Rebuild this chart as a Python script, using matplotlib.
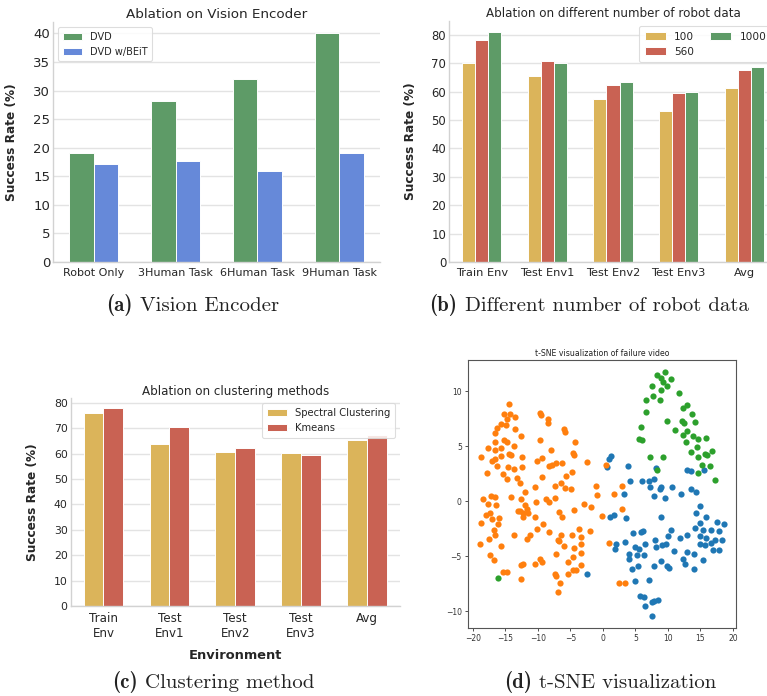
import matplotlib
matplotlib.use("Agg")  # no display in the runner
import matplotlib.pyplot as plt
from matplotlib.offsetbox import AnchoredOffsetbox, HPacker, TextArea
import numpy as np

# (a) vision encoder ablation
enc_tasks = ["Robot Only", "3Human Task", "6Human Task", "9Human Task"]
enc_dvd = [19.0, 28.2, 32.0, 40.0]
enc_beit = [17.2, 17.6, 16.0, 19.1]

# (b) amount of robot data
env_names = ["Train Env", "Test Env1", "Test Env2", "Test Env3", "Avg"]
robot_100 = [70.1, 65.5, 57.4, 53.2, 61.3]
robot_560 = [78.1, 70.7, 62.2, 59.4, 67.5]
robot_1000 = [80.8, 70.1, 63.2, 59.9, 68.5]

# (c) clustering method
env_names_wrapped = ["Train\nEnv", "Test\nEnv1", "Test\nEnv2", "Test\nEnv3", "Avg"]
spectral = [76.0, 63.7, 60.8, 60.1, 65.3]
kmeans = [78.0, 70.6, 62.1, 59.5, 67.3]

# (d) t-SNE embedding of failure videos, one array pair per cluster
blue_x = [1.25, 1.0, 0.6, 3.8, 8.2, 12.9, 13.5, 15.6, 4.2, 6.0,
          7.1, 7.8, 7.2, 8.9, 8.85, 10.6, 3.3, 7.9, 9.6, 12.0,
          13.5, 14.4, 15.0, 14.4, 15.8, 1.15, 1.65, 3.6, 9.0, 17.5,
          18.6, 14.9, 14.2, 15.4, 16.7, 17.8, 4.6, 5.8, 6.15, 10.5,
          11.8, 13.0, 8.0, 10.0, 14.9, 15.9, 17.2, 18.3, 16.7, 15.0,
          15.7, 16.9, 17.8, 3.4, 2.05, 1.95, 4.9, 5.6, 6.55, 8.2,
          9.15, 9.7, 10.9, 13.0, 14.05, 3.95, 4.05, 5.3, 6.35, 8.9,
          7.9, 12.3, 12.7, 15.4, 4.45, 5.4, 9.8, 10.2, 14.05, 4.9,
          7.1, 5.7, 6.4, 6.45, 7.6, 7.9, 8.55, 7.6, -2.4]
blue_y = [4.13, 3.83, 3.13, 3.22, 3.04, 2.83, 2.77, 2.83, 1.82, 1.85,
          1.82, 2.04, 1.28, 1.28, 1.16, 1.34, 0.70, 0.49, 0.33, 0.70,
          1.09, 0.82, -0.43, -1.03, -1.40, -1.40, -1.28, -1.52, -1.43, -1.88,
          -2.10, -2.0, -2.4, -2.6, -2.58, -2.7, -2.86, -2.80, -2.67, -2.61,
          -3.31, -3.07, -3.47, -3.19, -3.16, -3.34, -3.47, -3.47, -3.77, -3.92,
          -4.01, -4.38, -4.38, -3.71, -3.86, -4.32, -4.16, -4.29, -3.92, -4.19,
          -4.01, -3.86, -4.53, -4.59, -4.83, -4.77, -5.20, -4.92, -4.86, -5.41,
          -5.84, -5.23, -5.65, -5.29, -6.11, -5.84, -5.84, -6.02, -6.17, -7.23,
          -7.14, -8.60, -8.69, -9.48, -9.18, -9.06, -8.94, -10.40, -6.6]

orange_x = [-14.4, -15.2, -14.2, -13.5, -14.7, -15.6, -14.9, -16.2, -16.5, -9.6,
            -9.5, -8.5, -8.4, -5.9, -5.8, -13.5, -12.6, -16.6, -15.2, -14.7,
            -13.7, -16.5, -15.6, -9.7, -4.2, -17.7, -7.9, -18.75, -17.0, -16.5,
            -15.6, -14.4, -14.1, -12.4, -16.3, -14.6, -12.4, -13.6, -10.1, -9.4,
            -4.6, -4.5, -2.4, -17.85, -15.4, -14.7, -13.2, -12.8, -9.4, -8.3,
            -7.8, -7.2, -6.3, -5.7, -4.7, -6.4, -10.4, -11.9, -7.4, -5.8,
            -4.9, -1.0, -0.9, 1.7, -14.1, -17.2, -16.5, -18.4, -17.6, -16.4,
            -12.5, -11.9, -11.7, -8.8, -8.2, -7.4, -10.2, -13.1, -12.7, -12.2,
            -11.5, -12.2, -17.9, -17.4, -17.0, -16.0, -10.4, -6.8, -6.3, -4.5,
            -2.9, -1.8, -0.2, -18.75, -16.05, -9.2, -10.1, -16.7, -16.6, -13.7,
            -11.2, -11.7, -8.3, -6.4, -6.9, -6.7, -6.0, -4.7, -3.3, -2.0,
            -3.6, -18.85, -17.55, -15.6, -3.4, -3.3, -4.4, -17.3, -16.7, -12.6,
            -12.2, -10.4, -9.6, -9.4, -7.2, -5.3, -4.6, -3.3, -15.3, -14.7,
            -12.6, -7.4, -7.2, -6.6, -6.9, -5.3, -4.6, -4.1,
            0.5, 2.9, 3.0, 0.9, 2.5, 3.4]
orange_y = [8.85, 7.9, 7.9, 7.7, 7.5, 7.0, 6.9, 6.7, 6.2, 8.0,
            7.85, 7.5, 7.1, 6.6, 6.3, 6.6, 5.9, 5.4, 5.6, 5.4,
            5.0, 4.65, 4.8, 5.6, 5.4, 4.8, 4.7, 4.0, 3.7, 3.8,
            4.1, 4.3, 4.2, 4.0, 3.2, 3.1, 3.1, 2.9, 3.7, 3.9,
            4.4, 4.2, 3.6, 2.6, 2.5, 2.0, 2.1, 1.7, 2.2, 3.2,
            3.3, 3.5, 3.5, 2.3, 2.7, 1.7, 1.3, 0.85, 1.4, 1.25,
            1.15, 1.4, 0.55, 0.7, 0.4, 0.5, 0.4, 0.2, -0.2, -0.35,
            0.2, -0.3, -0.7, 0.2, -0.1, 0.3, -0.1, -0.9, -0.9, -1.1,
            -1.1, -1.45, -1.25, -1.1, -1.6, -1.5, -1.45, -0.95, -1.4, -0.8,
            -0.2, -0.5, -1.3, -2.0, -2.1, -2.1, -2.55, -2.6, -3.1, -3.1,
            -3.1, -3.4, -2.8, -3.1, -3.5, -3.6, -4.1, -3.1, -3.2, -2.7,
            -2.55, -3.9, -3.4, -4.1, -3.9, -4.7, -4.2, -4.9, -5.3, -5.8,
            -5.7, -5.7, -5.2, -5.5, -4.8, -5.5, -5.1, -5.8, -6.4, -6.4,
            -7.1, -6.6, -6.75, -7.45, -8.2, -6.6, -6.2, -6.2,
            3.3, 1.4, -0.7, -3.8, -7.4, -7.4]

green_x = [9.6, 8.3, 8.95, 9.2, 10.5, 7.6, 8.9, 9.8, 11.7, 7.7,
           6.6, 8.8, 13.0, 12.4, 6.6, 13.7, 9.9, 5.9, 14.2, 12.1,
           12.5, 11.1, 13.0, 12.3, 13.9, 14.7, 15.9, 5.5, 6.1, 12.8,
           14.5, 13.5, 15.7, 16.0, 16.8, 14.7, 7.2, 9.2, 15.2, 16.5,
           14.7, 17.2, 8.4, -16.1]
green_y = [11.73, 11.43, 11.19, 10.82, 11.12, 10.52, 10.15, 10.46, 9.85, 9.54,
           9.24, 9.24, 8.78, 8.48, 8.15, 7.96, 7.33, 6.72, 7.17, 7.26,
           7.08, 6.44, 6.38, 6.05, 5.96, 5.65, 5.74, 5.65, 5.59, 5.41,
           4.95, 4.50, 4.29, 4.22, 4.53, 4.01, 4.07, 4.01, 3.31, 3.22,
           2.58, 1.91, 2.83, -7.0]

assert len(blue_x) == len(blue_y)
assert len(orange_x) == len(orange_y)
assert len(green_x) == len(green_y)

YELLOW = "#dbb45a"
RED = "#c96253"
GREEN = "#5e9b67"
BLUE = "#6689d9"
TEXT = "#262626"
GRID = "#e3e3e3"
SPINE = "#d2d2d2"

W, H = 767, 696
fig = plt.figure(figsize=(W / 100, H / 100), dpi=100)


def add_axes_px(left, top, right, bottom):
    return fig.add_axes([left / W, 1 - bottom / H, (right - left) / W, (bottom - top) / H])


def style_bar_axes(ax, ytick_size, xtick_size):
    for side in ("top", "right"):
        ax.spines[side].set_visible(False)
    for side in ("left", "bottom"):
        ax.spines[side].set_color(SPINE)
        ax.spines[side].set_linewidth(1.0)
    ax.grid(axis="y", color=GRID, linewidth=1.0)
    ax.set_axisbelow(True)
    ax.tick_params(axis="both", length=0, colors=TEXT)
    ax.tick_params(axis="y", labelsize=ytick_size, pad=2)
    ax.tick_params(axis="x", labelsize=xtick_size, pad=4)


def grouped_bars(ax, categories, series, labels, colors, width):
    x = np.arange(len(categories))
    n = len(series)
    for i, (vals, lab, col) in enumerate(zip(series, labels, colors)):
        ax.bar(x + (i - (n - 1) / 2) * width, vals, width, color=col, label=lab,
               edgecolor="white", linewidth=0.7)
    ax.set_xticks(x, categories)
    ax.set_xlim(-0.5, len(categories) - 0.5)


def bar_legend(ax, size, **kw):
    leg = ax.legend(fontsize=size, frameon=True, fancybox=True, framealpha=0.85,
                    borderpad=0.5, labelspacing=0.5, **kw)
    leg.get_frame().set_edgecolor("#d8d8d8")
    leg.get_frame().set_linewidth(0.8)
    for t in leg.get_texts():
        t.set_color(TEXT)
    return leg


def caption(cx, cy, tag, text, size=15):
    # bold "(x)" tag followed by the regular caption, in Computer Modern
    bold = TextArea(tag, textprops=dict(family="cmb10", fontsize=size, color="#222222"))
    rest = TextArea(text, textprops=dict(family="cmr10", fontsize=size, color="#222222"))
    row = HPacker(children=[bold, rest], align="baseline", pad=0, sep=size * 0.36)
    box = AnchoredOffsetbox(loc="center", child=row, frameon=False, pad=0, borderpad=0,
                            bbox_to_anchor=(cx / W, 1 - cy / H),
                            bbox_transform=fig.transFigure)
    fig.add_artist(box)


# ---- (a) ----
ax_a = add_axes_px(53, 22, 380, 262)
grouped_bars(ax_a, enc_tasks, [enc_dvd, enc_beit], ["DVD", "DVD w/BEiT"], [GREEN, BLUE], 0.3)
style_bar_axes(ax_a, 9.5, 8.0)
ax_a.set_yticks(np.arange(0, 41, 5))
ax_a.set_title("Ablation on Vision Encoder", fontsize=9.7, color=TEXT, pad=3)
ax_a.set_ylabel("Success Rate (%)", fontsize=8.7, fontweight="bold", color=TEXT)
ax_a.yaxis.set_label_coords(-0.107, 0.5)
bar_legend(ax_a, 7.0, loc="upper left")

# ---- (b) ----
ax_b = add_axes_px(449, 21, 777, 262)
grouped_bars(ax_b, env_names, [robot_100, robot_560, robot_1000], ["100", "560", "1000"],
             [YELLOW, RED, GREEN], 0.2)
style_bar_axes(ax_b, 8.4, 8.2)
ax_b.set_yticks(np.arange(0, 81, 10))
ax_b.set_title("Ablation on different number of robot data", fontsize=8.6, color=TEXT, pad=3)
ax_b.set_ylabel("Success Rate (%)", fontsize=8.7, fontweight="bold", color=TEXT)
ax_b.yaxis.set_label_coords(-0.098, 0.5)
bar_legend(ax_b, 7.6, loc="upper right", ncol=2, columnspacing=1.5)

# ---- (c) ----
ax_c = add_axes_px(70.5, 398, 400, 606)
grouped_bars(ax_c, env_names_wrapped, [spectral, kmeans], ["Spectral Clustering", "Kmeans"],
             [YELLOW, RED], 0.3)
style_bar_axes(ax_c, 7.8, 8.6)
ax_c.set_yticks(np.arange(0, 81, 10))
ax_c.set_title("Ablation on clustering methods", fontsize=8.6, color=TEXT, pad=2)
ax_c.set_ylabel("Success Rate (%)", fontsize=8.7, fontweight="bold", color=TEXT)
ax_c.yaxis.set_label_coords(-0.096, 0.5)
ax_c.set_xlabel("Environment", fontsize=9.4, fontweight="bold", color=TEXT)
ax_c.xaxis.set_label_coords(0.5, -0.207)
bar_legend(ax_c, 7.2, loc="upper right")

# ---- (d) ----
ax_d = add_axes_px(468, 360, 736, 628)
ax_d.scatter(blue_x, blue_y, s=20, color="tab:blue", linewidths=0)
ax_d.scatter(orange_x, orange_y, s=20, color="tab:orange", linewidths=0)
ax_d.scatter(green_x, green_y, s=20, color="tab:green", linewidths=0)
ax_d.set_xticks(np.arange(-20, 21, 5))
ax_d.set_yticks(np.arange(-10, 11, 5))
ax_d.tick_params(labelsize=5.5, length=2.5, width=0.6, pad=2, colors="#333333")
for sp in ax_d.spines.values():
    sp.set_color("#555555")
    sp.set_linewidth(0.8)
ax_d.set_title("t-SNE visualization of failure video", fontsize=5.6, color="#222222", pad=3)

# ---- captions ----
caption(193, 305, "(a)", "Vision Encoder")
caption(589, 305, "(b)", "Different number of robot data")
caption(213, 682, "(c)", "Clustering method")
caption(610, 682, "(d)", "t-SNE visualization")

fig.savefig("out.png", dpi=100, facecolor="white")
